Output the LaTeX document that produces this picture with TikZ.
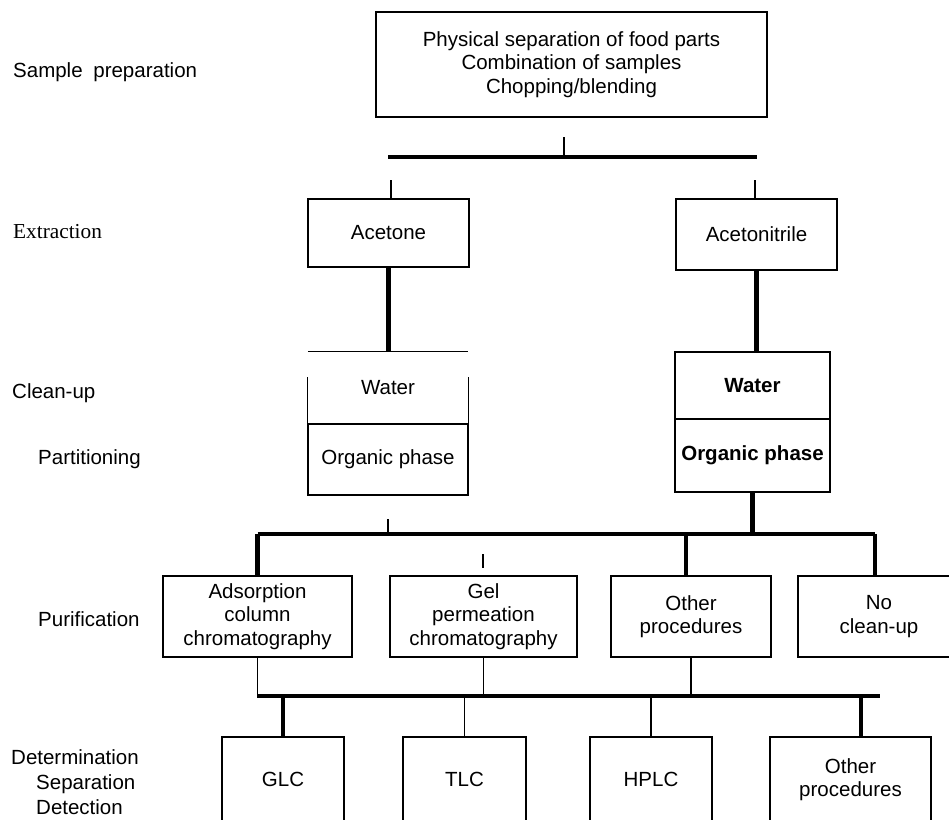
\documentclass[tikz,border=0pt]{standalone}
\usepackage{fontspec}
\setmainfont{Liberation Sans}
\newfontfamily\extrfont{Liberation Serif}
\usepackage{tikz}
\newcommand{\flowfont}{\fontsize{20.5}{23.5}\selectfont}
\tikzset{box/.style={draw=black, line width=1.3pt, align=center, inner sep=0pt, font=\flowfont},
         cell/.style={inner sep=0pt, align=center, font=\flowfont},
         stage/.style={anchor=west, inner sep=0pt, font=\flowfont},
         bar/.style={line width=4.5pt},
         link/.style={line width=1.3pt},
         tick/.style={line width=1.6pt}}

\begin{document}
\begin{tikzpicture}[x=1pt,y=-1pt]
    \useasboundingbox (0,0) rectangle (949,819);
    \clip (0,0) rectangle (949,819);
                 % stage names on the left
                 \node[stage] (lprep) at (13,72) {Sample\hspace{5pt} preparation};
                 \node[stage, font=\extrfont\fontsize{21.3}{24}\selectfont] (lextr) at (13,232) {Extraction};
                 \node[stage] (lclean) at (12,393) {Clean-up};
                 \node[stage] (lpart) at (38,459) {Partitioning};
                 \node[stage] (lpurif) at (38,619) {Purification};
                 \node[stage] (ldet) at (11,757) {Determination};
                 \node[stage] (lsep) at (36,784) {Separation};
                 \node[stage] (ldetc) at (36,807) {Detection};

                 \node[box, minimum width=391pt, minimum height=105pt] (prep) at (571.5,64.5)
                     {Physical separation of food parts\\Combination of samples\\Chopping/blending};
                 \coordinate (s0) at (564,137);
                 \coordinate (b1l) at (388,157);
                 \coordinate (b1r) at (757,157);
                 \draw[tick] (s0) -- (s0 |- b1l);
                 \draw[bar] (b1l) -- (b1r);

                 \node[box, minimum width=161pt, minimum height=68pt] (acetone) at (388.5,233) {Acetone};
                 \node[box, minimum width=161pt, minimum height=71pt] (acnit) at (756.5,234.5) {Acetonitrile};
                 \coordinate (t1) at (391,180);
                 \coordinate (t2) at (755,180);
                 \draw[tick] (t1) -- (t1 |- acetone.north);
                 \draw[tick] (t2) -- (t2 |- acnit.north);

                 % partitioning, acetone side
                 \node[cell, minimum width=160pt, minimum height=72pt] (lwater) at (388,388) {Water};
                 \node[box, minimum width=160pt, minimum height=71pt] (lorg) at (388,459.5) {Organic phase};
                 \coordinate (lgap) at (0,377);
                 \draw[link] (lwater.north west) -- (lwater.north east);
                 \draw[link] (lwater.south west) -- (lwater.south west |- lgap);
                 \draw[link] (lwater.south east) -- (lwater.south east |- lgap);
                 \draw[bar] (acetone.south) -- (acetone.south |- lwater.north);

                 % partitioning, acetonitrile side
                 \node[box, font=\flowfont\bfseries, minimum width=155pt, minimum height=67pt] (rwater) at (752.5,385.5) {Water};
                 \node[box, font=\flowfont\bfseries, minimum width=155pt, minimum height=73pt] (rorg) at (752.5,455.5) {Organic phase};
                 \draw[bar] (acnit.south) -- (acnit.south |- rwater.north);

                 % purification
                 \node[box, minimum width=189pt, minimum height=81pt] (adsorb) at (257.5,616.5) {Adsorption\\column\\chromatography};
                 \node[box, minimum width=187pt, minimum height=81pt] (gel) at (483.5,616.5) {Gel\\permeation\\chromatography};
                 \node[box, minimum width=160pt, minimum height=81pt] (othpur) at (691,616.5) {Other\\procedures};
                 \node[box, minimum width=162pt, minimum height=81pt] (noclean) at (879,616.5) {No\\clean-up};

                 \coordinate (b2l) at (257.5,534);
                 \coordinate (b2r) at (875,534);
                 \coordinate (d3) at (686,534);
                 \coordinate (s2) at (388,519);
                 \coordinate (s3) at (483,554);
                 \coordinate (s3b) at (483,568);
                 \draw[bar] (rorg.south) -- (rorg.south |- b2l);
                 \draw[bar] (b2l) -- (b2r);
                 \draw[bar] (b2l) -- (adsorb.north);
                 \draw[bar] (d3) -- (d3 |- othpur.north);
                 \draw[bar] (b2r) -- (b2r |- noclean.north);
                 \draw[tick] (s2) -- (s2 |- b2l);
                 \draw[tick] (s3) -- (s3b);

                 % determination
                 \node[box, minimum width=122pt, minimum height=85pt] (glc) at (283,779.5) {GLC};
                 \node[box, minimum width=123pt, minimum height=85pt] (tlc) at (464.5,779.5) {TLC};
                 \node[box, minimum width=122pt, minimum height=85pt] (hplc) at (651,779.5) {HPLC};
                 \node[box, minimum width=161pt, minimum height=85pt] (othdet) at (850.5,779.5) {Other\\procedures};

                 \coordinate (b3l) at (257,696);
                 \coordinate (b3r) at (880,696);
                 \coordinate (d5) at (861,696);
                 \draw[link] (adsorb.south) -- (adsorb.south |- b3l);
                 \draw[link] (gel.south) -- (gel.south |- b3l);
                 \draw[link] (othpur.south) -- (othpur.south |- b3l);
                 \draw[bar] (b3l) -- (b3r);
                 \draw[bar] (glc.north) -- (glc.north |- b3l);
                 \draw[link] (tlc.north) -- (tlc.north |- b3l);
                 \draw[link] (hplc.north) -- (hplc.north |- b3l);
                 \draw[bar] (d5) -- (d5 |- othdet.north);
\end{tikzpicture}
\end{document}
